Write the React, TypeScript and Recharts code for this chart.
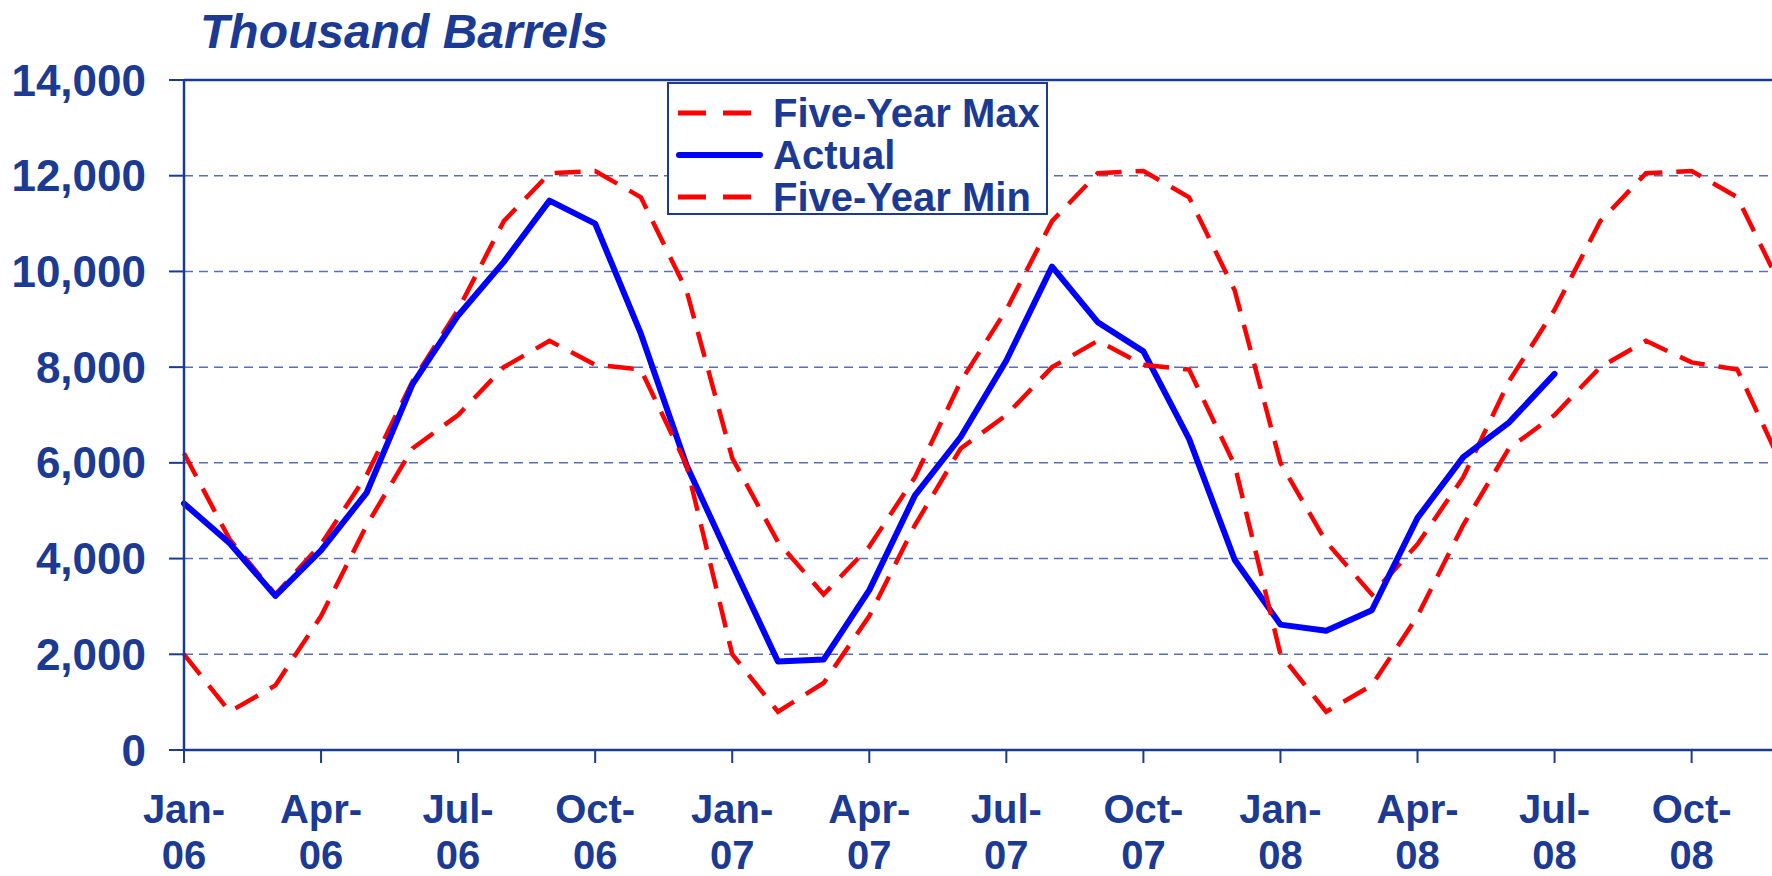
import React from "react";
import { LineChart, Line, XAxis, YAxis, CartesianGrid, ReferenceLine, Legend } from "recharts";

const months = [
  "Jan-06", "Feb-06", "Mar-06", "Apr-06", "May-06", "Jun-06", "Jul-06", "Aug-06", "Sep-06", "Oct-06", "Nov-06", "Dec-06",
  "Jan-07", "Feb-07", "Mar-07", "Apr-07", "May-07", "Jun-07", "Jul-07", "Aug-07", "Sep-07", "Oct-07", "Nov-07", "Dec-07",
  "Jan-08", "Feb-08", "Mar-08", "Apr-08", "May-08", "Jun-08", "Jul-08", "Aug-08", "Sep-08", "Oct-08", "Nov-08", "Dec-08",
];

const fiveYearMax = [
  6200, 4400, 3250, 4300, 5750, 7700, 9200, 11050, 12050, 12100, 11550, 9600,
  6100, 4350, 3250, 4250, 5700, 7700, 9200, 11050, 12050, 12100, 11550, 9600,
  6000, 4350, 3250, 4300, 5700, 7700, 9200, 11050, 12050, 12100, 11550, 9600,
];

const actual = [
  5150, 4320, 3220, 4170, 5380, 7640, 9080, 10200, 11480, 11000, 8700, 5950,
  3880, 1850, 1890, 3340, 5320, 6540, 8140, 10100, 8940, 8330, 6500, 3970,
  2620, 2490, 2920, 4850, 6120, 6840, 7860, null, null, null, null, null,
];

const fiveYearMin = [
  2000, 800, 1350, 2800, 4700, 6300, 7000, 8000, 8550, 8050, 7950, 5950,
  2000, 800, 1400, 2800, 4700, 6300, 7000, 8000, 8550, 8050, 7950, 5950,
  2000, 800, 1350, 2800, 4700, 6300, 7000, 8000, 8550, 8100, 7950, 5900,
];

const yTicks = [0, 2000, 4000, 6000, 8000, 10000, 12000, 14000];

const legendOrder = ["Five-Year Max", "Actual", "Five-Year Min"];

const data = months.map((m, i) => ({
  month: m,
  max: fiveYearMax[i],
  actual: actual[i],
  min: fiveYearMin[i],
}));

const NAVY = "#1B3A93";
const FONT = "'Liberation Sans', Arial, Helvetica, sans-serif";

const MonthTick = (props: any) => {
  const { x, y, payload } = props;
  const [mon, yr] = String(payload.value).split("-");
  return (
    <g>
      <text x={x} y={y + 60} textAnchor="middle" fill={NAVY} fontSize={40} fontWeight="bold" fontFamily={FONT}>
        {mon + "-"}
      </text>
      <text x={x} y={y + 106} textAnchor="middle" fill={NAVY} fontSize={40} fontWeight="bold" fontFamily={FONT}>
        {yr}
      </text>
    </g>
  );
};

const LegendBox = (props: any) => {
  const items = [...(props.payload || [])].sort(
    (a: any, b: any) => legendOrder.indexOf(a.value) - legendOrder.indexOf(b.value)
  );
  return (
    <div
      style={{
        boxSizing: "border-box",
        width: 381,
        height: 133,
        border: `2px solid ${NAVY}`,
        background: "#fff",
        paddingTop: 8,
      }}
    >
      {items.map((entry: any) => (
        <div key={entry.value} style={{ display: "flex", alignItems: "center", height: 42 }}>
          <svg width={90} height={10} style={{ marginLeft: 7, flex: "none" }}>
            {entry.value === "Actual" ? (
              <line x1={3} y1={5} x2={84} y2={5} stroke={entry.color} strokeWidth={6} strokeLinecap="round" />
            ) : (
              <line x1={2} y1={5} x2={77} y2={5} stroke={entry.color} strokeWidth={5} strokeDasharray="28 17" />
            )}
          </svg>
          <span
            style={{
              marginLeft: 7,
              fontFamily: FONT,
              fontWeight: "bold",
              fontSize: 40,
              lineHeight: 1,
              color: NAVY,
              whiteSpace: "nowrap",
            }}
          >
            {entry.value}
          </span>
        </div>
      ))}
    </div>
  );
};

const App: React.FC = () => {
  return (
    <div style={{ position: "absolute", left: 0, top: 0, width: 1772, height: 876, overflow: "hidden", background: "#fff" }}>
      <div
        style={{
          position: "absolute",
          left: 200,
          top: 8,
          fontFamily: FONT,
          fontWeight: "bold",
          fontStyle: "italic",
          fontSize: 48,
          lineHeight: "48px",
          color: NAVY,
          whiteSpace: "nowrap",
        }}
      >
        Thousand Barrels
      </div>
      <LineChart width={1783} height={876} data={data} margin={{ top: 80, right: 0, bottom: 0, left: 0 }}>
        <CartesianGrid vertical={false} stroke="#5A6EB3" strokeWidth={1.5} strokeDasharray="9 6" />
        <XAxis
          dataKey="month"
          interval={2}
          height={126}
          tickSize={13}
          tickMargin={0}
          tick={<MonthTick />}
          axisLine={{ stroke: NAVY, strokeWidth: 2.5 }}
          tickLine={{ stroke: NAVY, strokeWidth: 2 }}
        />
        <YAxis
          width={184}
          domain={[0, 14000]}
          ticks={yTicks}
          tickSize={15}
          tickMargin={23}
          tickFormatter={(v: number) => v.toLocaleString("en-US")}
          tick={{ fill: NAVY, fontSize: 44, fontWeight: "bold", fontFamily: FONT }}
          axisLine={{ stroke: NAVY, strokeWidth: 2.5 }}
          tickLine={{ stroke: NAVY, strokeWidth: 2 }}
        />
        <ReferenceLine y={14000} stroke={NAVY} strokeWidth={2.5} />
        <Legend
          layout="vertical"
          align="center"
          verticalAlign="middle"
          content={<LegendBox />}
          wrapperStyle={{ left: 667, top: 82, width: 381, height: 133 }}
        />
        <Line
          type="linear"
          dataKey="max"
          name="Five-Year Max"
          stroke="#FF0000"
          strokeWidth={4.5}
          strokeDasharray="26 14"
          dot={false}
          isAnimationActive={false}
        />
        <Line
          type="linear"
          dataKey="actual"
          name="Actual"
          stroke="#0000FF"
          strokeWidth={6}
          strokeLinejoin="round"
          strokeLinecap="round"
          dot={false}
          isAnimationActive={false}
        />
        <Line
          type="linear"
          dataKey="min"
          name="Five-Year Min"
          stroke="#FF0000"
          strokeWidth={4.5}
          strokeDasharray="26 14"
          dot={false}
          isAnimationActive={false}
        />
      </LineChart>
    </div>
  );
};

export default App;
